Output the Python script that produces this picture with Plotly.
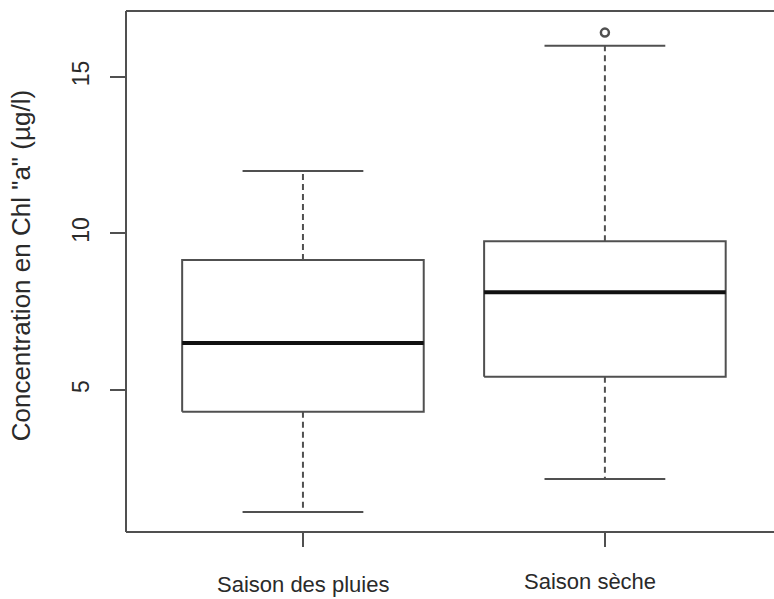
import plotly.graph_objects as go

# Chlorophyll "a" concentration summaries per season (µg/l)
categories = ["Saison des pluies", "Saison sèche"]
lower_whisker = [1.1, 2.15]
q1 = [4.3, 5.42]
median = [6.5, 8.12]
q3 = [9.15, 9.75]
upper_whisker = [12.0, 16.0]
outliers = [[], [16.42]]
y_ticks = [5, 10, 15]

BOX_W = 0.8
CAP_W = 0.4
LINE = "#505050"
TEXT = "#2a2a2a"
FONT = "Liberation Sans, Arial, sans-serif"

fig = go.Figure()

for i, name in enumerate(categories):
    c = i + 1
    hb, hc = BOX_W / 2, CAP_W / 2
    # box outline
    fig.add_trace(go.Scatter(
        x=[c - hb, c + hb, c + hb, c - hb, c - hb],
        y=[q1[i], q1[i], q3[i], q3[i], q1[i]],
        mode="lines", line=dict(color=LINE, width=2),
        hoverinfo="skip", showlegend=False))
    # dashed whiskers
    for a, b in ((q3[i], upper_whisker[i]), (q1[i], lower_whisker[i])):
        fig.add_trace(go.Scatter(
            x=[c, c], y=[a, b], mode="lines",
            line=dict(color=LINE, width=2, dash="6px,4px"),
            hoverinfo="skip", showlegend=False))
    # whisker caps
    for v in (upper_whisker[i], lower_whisker[i]):
        fig.add_trace(go.Scatter(
            x=[c - hc, c + hc], y=[v, v], mode="lines",
            line=dict(color=LINE, width=2),
            hoverinfo="skip", showlegend=False))
    # median
    fig.add_trace(go.Scatter(
        x=[c - hb, c + hb], y=[median[i], median[i]], mode="lines",
        line=dict(color="#111111", width=4),
        hoverinfo="skip", showlegend=False))
    # outliers
    if outliers[i]:
        fig.add_trace(go.Scatter(
            x=[c] * len(outliers[i]), y=outliers[i], mode="markers",
            marker=dict(symbol="circle-open", size=8, color=LINE,
                        line=dict(width=2.5, color=LINE)),
            hoverinfo="skip", showlegend=False))

# category labels under the axis ticks
for i, name in enumerate(categories):
    fig.add_annotation(
        x=i + 1, y=-0.1, xref="x", yref="paper",
        text=name, showarrow=False, xanchor="center", yanchor="middle",
        xshift=[0, -15][i], yshift=[0, 3][i],
        font=dict(family=FONT, size=22, color=TEXT))

fig.add_annotation(
    x=-0.162, y=0.51, xref="paper", yref="paper",
    text='Concentration en Chl "a" (µg/l)', textangle=-90,
    showarrow=False, xanchor="center", yanchor="middle",
    font=dict(family=FONT, size=26, color=TEXT))

# frame: left, top and bottom edges
for x0, y0, x1, y1 in ((0, 0, 0, 1), (0, 1, 1, 1), (0, 0, 1, 0)):
    fig.add_shape(type="line", xref="paper", yref="paper",
                  x0=x0, y0=y0, x1=x1, y1=y1,
                  line=dict(color=LINE, width=2))

fig.update_layout(
    width=774, height=599,
    margin=dict(l=126, r=0, t=11, b=67),
    paper_bgcolor="white", plot_bgcolor="white",
    font=dict(family=FONT, color=TEXT),
    xaxis=dict(range=[0.414, 2.56], showgrid=False, zeroline=False,
               showline=False, tickvals=[1, 2], ticktext=["", ""],
               ticks="outside", ticklen=14, tickwidth=2, tickcolor=LINE),
    yaxis=dict(range=[0.46, 17.11], showgrid=False, zeroline=False,
               showline=False, tickvals=y_ticks,
               ticktext=[str(t) for t in y_ticks],
               ticks="outside", ticklen=15, tickwidth=2, tickcolor=LINE,
               tickangle=-90, ticklabelstandoff=12,
               tickfont=dict(family=FONT, size=23, color=TEXT)),
)

fig.write_html("out.html")
